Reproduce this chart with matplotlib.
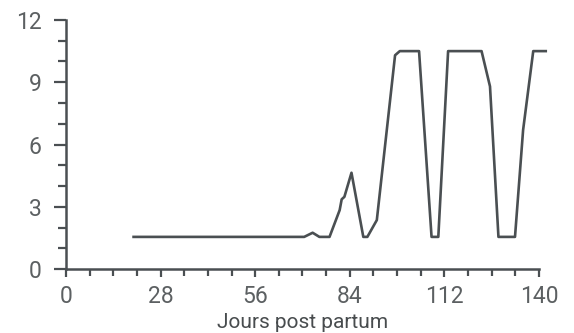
import matplotlib
matplotlib.use("Agg")
import matplotlib.pyplot as plt
from matplotlib.ticker import MultipleLocator

# Progesterone-like profile over days post partum
days = [20, 70.5, 73, 75, 78, 81, 81.6, 82.4, 84.5, 88, 89.2, 92, 97.4, 98.8,
        104.5, 108.2, 110.2, 113.1, 123, 125.5, 128, 132.9, 135.3, 138.3, 142]
values = [1.55, 1.55, 1.75, 1.55, 1.55, 2.84, 3.36, 3.48, 4.64, 1.55, 1.55, 2.36,
          10.3, 10.5, 10.5, 1.55, 1.55, 10.5, 10.5, 8.8, 1.55, 1.55, 6.7, 10.5, 10.5]

x_ticks = [0, 28, 56, 84, 112, 140]
y_ticks = [0, 3, 6, 9, 12]
x_label = "Jours post partum"

ink = "#4a4f52"
text_col = "#5c6062"

plt.rcParams["font.family"] = ["Roboto", "DejaVu Sans"]

fig = plt.figure(figsize=(5.74, 3.33), dpi=100)
ax = fig.add_axes([0.115, 0.192, 0.824, 0.748])

ax.plot(days, values, color=ink, lw=1.9, solid_joinstyle="round", clip_on=False)

ax.set_xlim(0, 140)
ax.set_ylim(0, 12)
ax.set_xticks(x_ticks)
ax.set_yticks(y_ticks)
ax.xaxis.set_minor_locator(MultipleLocator(7))
ax.yaxis.set_minor_locator(MultipleLocator(1))

for side in ("top", "right"):
    ax.spines[side].set_visible(False)
for side in ("left", "bottom"):
    ax.spines[side].set_color(ink)
    ax.spines[side].set_linewidth(1.8)

ax.tick_params(axis="y", which="major", length=8.5, width=1.6, color=ink,
               pad=9, labelsize=16.5, labelcolor=text_col)
ax.tick_params(axis="y", which="minor", length=5.5, width=1.6, color=ink)
ax.tick_params(axis="x", which="major", length=5.5, width=1.6, color=ink,
               pad=6, labelsize=16.5, labelcolor=text_col)
ax.tick_params(axis="x", which="minor", length=5, width=1.6, color=ink)

ax.set_xlabel(x_label, fontsize=15, color="#484c4e", va="center")
ax.xaxis.set_label_coords(0.5, -0.213)

fig.savefig("out.png", dpi=100, facecolor="white")
